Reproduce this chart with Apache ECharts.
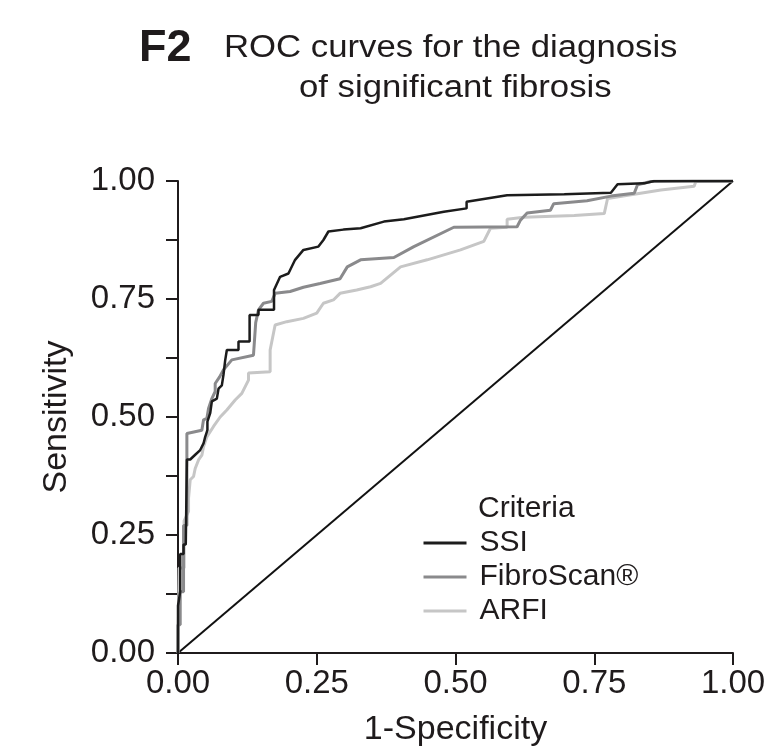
<!DOCTYPE html>
<html>
<head>
<meta charset="utf-8">
<title>ROC curves</title>
<script src="https://cdn.jsdelivr.net/npm/echarts@6/dist/echarts.min.js"></script>
<style>
html,body{margin:0;padding:0;background:#fff;}
#roc{width:773px;height:749px;}
</style>
</head>
<body>
<div id="roc"></div>
<script>
// 数据: 1-特异度 / 灵敏度
var ssiX = [0, 0, 0.004, 0.004, 0.010, 0.010, 0.014, 0.016, 0.022, 0.031, 0.040, 0.046, 0.049, 0.053, 0.053, 0.058, 0.061, 0.070, 0.073, 0.079, 0.082, 0.085, 0.088, 0.088, 0.109, 0.109, 0.129, 0.129, 0.145, 0.145, 0.173, 0.173, 0.184, 0.199, 0.211, 0.226, 0.253, 0.262, 0.271, 0.298, 0.329, 0.371, 0.407, 0.479, 0.520, 0.520, 0.593, 0.696, 0.780, 0.792, 0.840, 0.858, 1];
var ssiY = [0, 0.10, 0.13, 0.21, 0.21, 0.23, 0.23, 0.41, 0.41, 0.42, 0.43, 0.444, 0.458, 0.472, 0.49, 0.508, 0.533, 0.539, 0.56, 0.567, 0.59, 0.62, 0.62, 0.642, 0.642, 0.66, 0.66, 0.716, 0.716, 0.727, 0.727, 0.769, 0.797, 0.804, 0.833, 0.854, 0.861, 0.875, 0.893, 0.897, 0.90, 0.914, 0.919, 0.935, 0.942, 0.956, 0.970, 0.972, 0.975, 0.993, 0.995, 1, 1];

var fibroX = [0, 0, 0.004, 0.004, 0.010, 0.010, 0.016, 0.016, 0.043, 0.046, 0.052, 0.055, 0.061, 0.067, 0.067, 0.075, 0.082, 0.097, 0.136, 0.140, 0.145, 0.154, 0.169, 0.175, 0.202, 0.226, 0.256, 0.292, 0.305, 0.329, 0.389, 0.425, 0.497, 0.611, 0.617, 0.629, 0.671, 0.677, 0.737, 0.780, 0.822, 0.828, 0.852, 0.930, 1];
var fibroY = [0, 0.06, 0.06, 0.13, 0.13, 0.27, 0.27, 0.465, 0.472, 0.494, 0.497, 0.518, 0.539, 0.554, 0.571, 0.585, 0.60, 0.621, 0.631, 0.70, 0.727, 0.741, 0.745, 0.762, 0.766, 0.775, 0.783, 0.793, 0.818, 0.833, 0.838, 0.861, 0.902, 0.903, 0.917, 0.932, 0.938, 0.952, 0.958, 0.968, 0.974, 0.992, 0.999, 1, 1];

var arfiX = [0, 0.002, 0.002, 0.011, 0.011, 0.019, 0.019, 0.022, 0.028, 0.031, 0.037, 0.043, 0.046, 0.052, 0.064, 0.076, 0.088, 0.103, 0.115, 0.127, 0.127, 0.166, 0.166, 0.175, 0.196, 0.226, 0.250, 0.262, 0.280, 0.292, 0.322, 0.347, 0.365, 0.401, 0.449, 0.509, 0.551, 0.563, 0.593, 0.593, 0.623, 0.714, 0.768, 0.774, 0.822, 0.870, 0.930, 0.933, 1];
var arfiY = [0, 0, 0.18, 0.18, 0.28, 0.30, 0.328, 0.367, 0.374, 0.391, 0.409, 0.419, 0.437, 0.458, 0.48, 0.50, 0.515, 0.536, 0.55, 0.578, 0.593, 0.596, 0.642, 0.695, 0.702, 0.709, 0.720, 0.741, 0.748, 0.762, 0.769, 0.776, 0.783, 0.818, 0.833, 0.854, 0.872, 0.90, 0.902, 0.919, 0.923, 0.927, 0.931, 0.963, 0.972, 0.981, 0.989, 0.999, 1];

var refX = [0, 1];
var refY = [0, 1];

var criteria = ['SSI', 'FibroScan®', 'ARFI'];

var font = '"Liberation Sans", Arial, sans-serif';
var ink = '#1f1b1c';

function pairs(xs, ys) {
    var out = [];
    for (var i = 0; i < xs.length; i++) {
        out.push([xs[i], ys[i]]);
    }
    return out;
}

function rocLine(name, xs, ys, color, width) {
    return {
        name: name,
        type: 'line',
        data: pairs(xs, ys),
        symbol: 'none',
        silent: true,
        lineStyle: { color: color, width: width },
        itemStyle: { color: color }
    };
}

// 标题文字横向略宽
function label(x, y, text, size, weight, sx) {
    return {
        type: 'text',
        x: x,
        y: y,
        scaleX: sx || 1,
        style: {
            x: 0, y: 0,
            text: text,
            font: (weight || 'normal') + ' ' + size + 'px ' + font,
            fill: ink,
            textAlign: 'left',
            textVerticalAlign: 'top'
        }
    };
}

var myChart = echarts.init(document.getElementById('roc'));
var option = {
    animation: false,
    backgroundColor: '#fff',
    textStyle: { fontFamily: font, color: ink },
    grid: { left: 178, right: 40, top: 181, bottom: 96, containLabel: false, outerBoundsMode: 'none' },
    graphic: [
        label(139, 26, 'F2', 45, 'bold'),
        label(224, 33, 'ROC curves for the diagnosis', 31, 'normal', 1.12),
        label(299, 73, 'of significant fibrosis', 31, 'normal', 1.12),
        label(478, 494, 'Criteria', 30)
    ],
    legend: {
        data: criteria,
        orient: 'vertical',
        left: 422,
        top: 528,
        padding: 0,
        itemWidth: 43,
        itemHeight: 30,
        itemGap: 4,
        selectedMode: false,
        itemStyle: { opacity: 0 },
        lineStyle: { width: 3 },
        textStyle: { fontFamily: font, fontSize: 30, color: ink, padding: [0, 0, 0, 8] }
    },
    xAxis: {
        type: 'value',
        min: 0,
        max: 1,
        interval: 0.25,
        name: '1-Specificity',
        nameLocation: 'middle',
        nameGap: 60,
        nameTextStyle: { fontFamily: font, fontSize: 34, color: ink },
        axisLine: { show: true, lineStyle: { color: ink, width: 2 } },
        axisTick: { show: true, length: 12, lineStyle: { color: ink, width: 2 } },
        axisLabel: {
            margin: 14,
            fontSize: 33,
            fontFamily: font,
            color: ink,
            formatter: function (v) { return v.toFixed(2); }
        },
        splitLine: { show: false }
    },
    yAxis: {
        type: 'value',
        min: 0,
        max: 1,
        interval: 0.125,
        name: 'Sensitivity',
        nameLocation: 'middle',
        nameRotate: 90,
        nameGap: 104,
        nameTextStyle: { fontFamily: font, fontSize: 34, color: ink },
        axisLine: { show: true, lineStyle: { color: ink, width: 2 } },
        axisTick: { show: true, length: 12, lineStyle: { color: ink, width: 2 } },
        axisLabel: {
            margin: 23,
            fontSize: 33,
            fontFamily: font,
            color: ink,
            formatter: function (v) {
                return Math.round(v * 1000) % 250 === 0 ? v.toFixed(2) : '';
            }
        },
        splitLine: { show: false }
    },
    series: [
        {
            name: 'reference',
            type: 'line',
            data: pairs(refX, refY),
            symbol: 'none',
            silent: true,
            lineStyle: { color: '#111', width: 2 }
        },
        rocLine('ARFI', arfiX, arfiY, '#c6c6c6', 3),
        rocLine('FibroScan®', fibroX, fibroY, '#8a8a8c', 3),
        rocLine('SSI', ssiX, ssiY, '#1c1c1c', 2.5)
    ]
};
myChart.setOption(option);
</script>
</body>
</html>
